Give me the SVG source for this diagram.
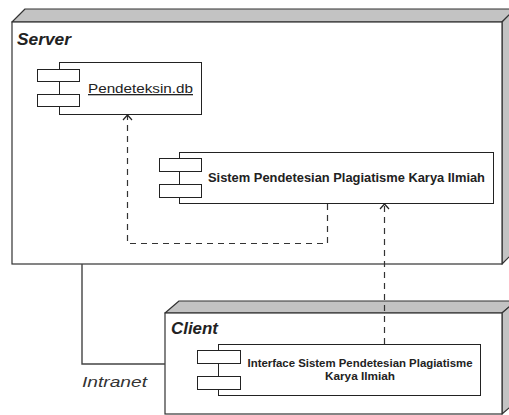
<svg xmlns="http://www.w3.org/2000/svg" width="509" height="415" viewBox="0 0 509 415">
<defs>
<style>
.front{fill:#fff;stroke:#333;stroke-width:1.2}
.face{fill:#c3c3c3;stroke:#333;stroke-width:1.2;stroke-linejoin:round}
.comp{fill:#fff;stroke:#222;stroke-width:1}
.port{fill:#fff;stroke:#222;stroke-width:1}
.nodeLbl{font-family:"Liberation Sans",Arial,sans-serif;font-weight:bold;font-style:italic;font-size:16px;fill:#222}
.compLbl{font-family:"Liberation Sans",Arial,sans-serif;font-weight:bold;fill:#222}
.dbLbl{font-family:"Liberation Sans",Arial,sans-serif;font-size:13px;fill:#222}
.dash{fill:none;stroke:#333;stroke-width:1.2;stroke-dasharray:6 5}
.arrow{fill:none;stroke:#222;stroke-width:1.2}
.link{fill:none;stroke:#444;stroke-width:1.4}
.edgeLbl{font-family:"Liberation Sans",Arial,sans-serif;font-style:italic;font-size:15px;fill:#333}
</style>
</defs>
<g id="server">
<polygon class="face" points="12,22 25,9 515,9 502,22"/>
<polygon class="face" points="502,22 515,9 515,251 502,264"/>
<rect class="front" x="12" y="22" width="490" height="242"/>
<text class="nodeLbl" x="17" y="45" textLength="54" lengthAdjust="spacingAndGlyphs">Server</text>
</g>
<g id="client">
<polygon class="face" points="165,313 179,301 516,301 502,313"/>
<polygon class="face" points="502,313 516,301 516,402 502,414"/>
<rect class="front" x="165" y="313" width="337" height="101"/>
<text class="nodeLbl" x="171" y="334" textLength="47" lengthAdjust="spacingAndGlyphs">Client</text>
</g>
<g id="pendeteksin-db">
<rect class="comp" x="59.5" y="62.5" width="142" height="52"/>
<rect class="port" x="37.5" y="69.5" width="42" height="12"/>
<rect class="port" x="37.5" y="94.5" width="42" height="12"/>
<text class="dbLbl" x="88" y="93" text-decoration="underline" textLength="105" lengthAdjust="spacingAndGlyphs">Pendeteksin.db</text>
</g>
<g id="sistem">
<rect class="comp" x="179.5" y="152.5" width="314" height="51"/>
<rect class="port" x="159.5" y="158.5" width="42" height="13"/>
<rect class="port" x="159.5" y="184.5" width="42" height="13"/>
<text class="compLbl" x="208" y="182" font-size="12.5" textLength="277" lengthAdjust="spacingAndGlyphs">Sistem Pendetesian Plagiatisme Karya Ilmiah</text>
</g>
<g id="interface">
<rect class="comp" x="218.5" y="344.5" width="262" height="51"/>
<rect class="port" x="197.5" y="350.5" width="43" height="13"/>
<rect class="port" x="197.5" y="376.5" width="43" height="13"/>
<text class="compLbl" x="360" y="367" font-size="10" text-anchor="middle" textLength="225" lengthAdjust="spacingAndGlyphs">Interface Sistem Pendetesian Plagiatisme</text>
<text class="compLbl" x="360" y="380" font-size="10" text-anchor="middle" textLength="70" lengthAdjust="spacingAndGlyphs">Karya Ilmiah</text>
</g>
<g id="connectors">
<polyline class="dash" points="327.5,204 327.5,243.5 127.5,243.5 127.5,116"/>
<polyline class="arrow" points="123,120 127.5,115 132,120"/>
<line class="dash" x1="384.5" y1="344" x2="384.5" y2="205"/>
<polyline class="arrow" points="380,209 384.5,204 389,209"/>
<polyline class="link" points="82,264 82,364 165,364"/>
<text class="edgeLbl" x="82" y="387" textLength="65" lengthAdjust="spacingAndGlyphs">Intranet</text>
</g>
</svg>
